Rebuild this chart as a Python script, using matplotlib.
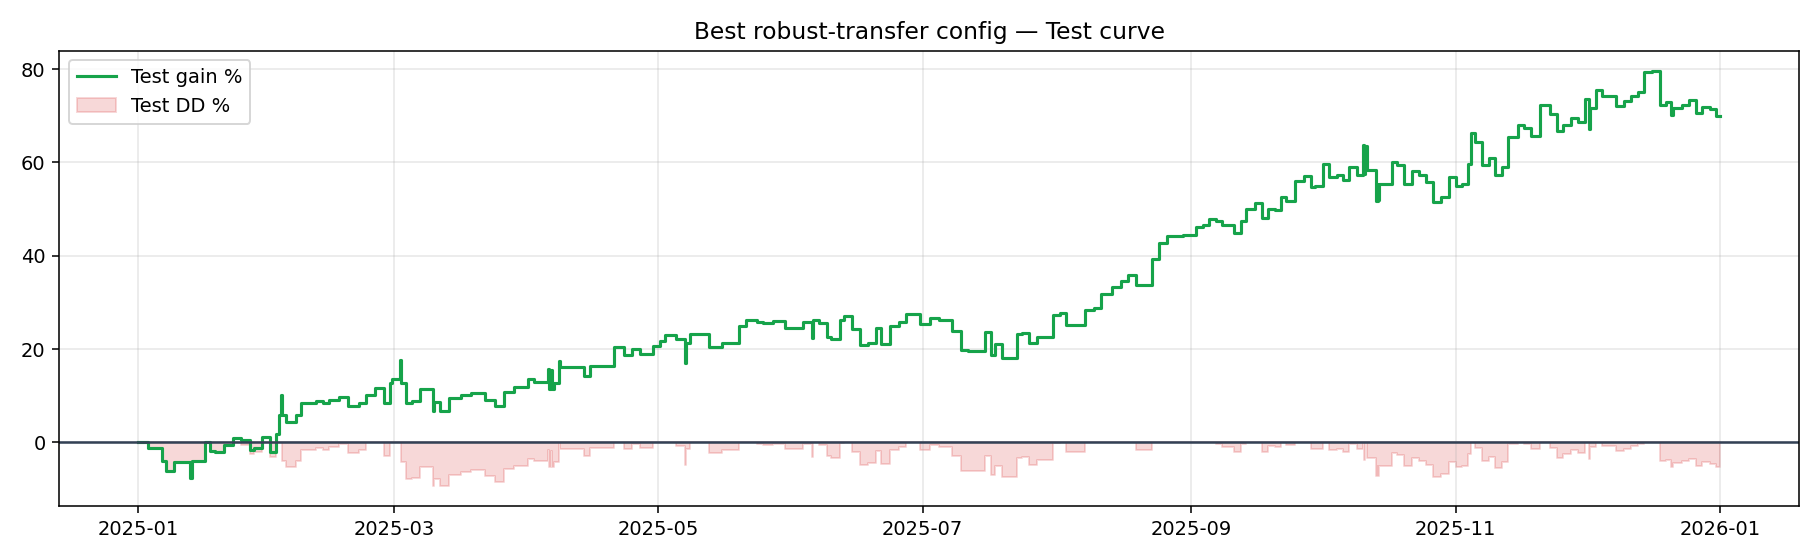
import matplotlib
matplotlib.use("Agg")
import matplotlib.pyplot as plt
import matplotlib.dates as mdates
import numpy as np
import pandas as pd

# days since 2025-01-01 where the test equity changes, and the gain % from that point on
day_offsets = [
    0.0, 2.3, 5.5, 6.4, 8.2, 12.0, 12.3, 15.4, 16.5, 17.7, 19.8, 21.9, 23.7, 25.7, 26.7,
    28.5, 30.3, 31.7, 32.5, 33.0, 33.2, 34.0, 36.4, 37.6, 41.0, 42.6, 44.1, 46.4, 48.5,
    51.0, 52.5, 54.7, 56.6, 58.1, 58.6, 60.5, 60.7, 61.8, 63.1, 65.0, 68.1, 68.3, 69.6,
    71.8, 74.5, 76.8, 79.9, 82.2, 84.5, 86.8, 89.9, 91.4, 94.6, 94.8, 95.2, 95.5, 95.9,
    97.2, 97.4, 102.8, 104.3, 109.7, 112.1, 113.9, 115.8, 118.7, 120.3, 121.6, 124.2,
    126.2, 126.4, 127.3, 131.6, 134.8, 138.6, 140.2, 142.8, 144.2, 146.5, 149.3, 153.3,
    155.4, 155.6, 157.0, 158.9, 159.9, 162.0, 162.9, 164.8, 166.5, 168.5, 170.2, 171.5,
    173.4, 175.5, 177.2, 180.5, 182.6, 184.8, 187.8, 189.8, 191.5, 195.4, 196.7, 197.8,
    199.4, 202.7, 204.0, 205.6, 207.4, 211.0, 212.8, 214.1, 218.4, 220.5, 222.2, 224.8,
    226.7, 228.5, 230.2, 234.0, 235.6, 237.3, 241.0, 244.1, 245.6, 247.2, 248.7, 250.2,
    252.9, 254.4, 255.7, 257.7, 259.3, 260.6, 262.4, 263.7, 264.8, 266.9, 269.0, 270.7,
    271.6, 273.3, 274.8, 276.6, 277.9, 279.5, 281.2, 282.7, 282.9, 283.2, 283.5, 285.7,
    286.0, 286.2, 286.4, 289.4, 290.5, 292.2, 294.0, 295.5, 297.1, 298.8, 300.7, 302.5,
    304.2, 305.5, 306.9, 307.6, 308.5, 310.0, 311.6, 313.0, 314.6, 316.0, 318.4, 319.8,
    321.3, 323.5, 325.7, 327.4, 328.9, 330.7, 332.2, 333.8, 334.9, 335.1, 336.5, 337.9,
    341.1, 342.9, 344.4, 346.0, 347.5, 349.4, 351.1, 352.5, 353.7, 354.1, 356.3, 357.8,
    359.4, 360.9, 362.6, 364.0, 365.0,
]
test_gain = [
    0.0, -1.1, -3.9, -6.1, -4.1, -7.6, -4.0, 0.0, -1.8, -2.1, -0.6, 1.0, 0.5, -1.6, -1.1,
    1.2, -2.0, 1.9, 5.9, 10.2, 5.9, 4.3, 5.9, 8.4, 8.9, 8.4, 9.1, 9.8, 7.8,
    8.4, 10.2, 11.6, 8.4, 12.7, 13.6, 17.7, 12.7, 8.4, 8.8, 11.4, 6.8, 8.6, 6.8,
    9.5, 10.2, 10.7, 9.2, 7.8, 10.9, 11.8, 13.5, 13.0, 15.8, 11.4, 15.6, 11.5, 12.8,
    17.5, 16.1, 14.2, 16.3, 20.5, 18.8, 20.0, 19.0, 20.6, 21.8, 23.0, 22.1,
    17.1, 21.2, 23.2, 20.4, 21.3, 24.9, 26.3, 25.8, 25.6, 26.0, 24.6, 25.8,
    22.4, 26.3, 25.5, 22.6, 22.1, 26.2, 27.0, 24.3, 20.9, 21.3, 24.6, 21.1,
    24.9, 25.8, 27.5, 25.4, 26.7, 26.3, 23.8, 19.8, 19.6, 23.7, 18.7, 21.1,
    18.0, 23.2, 23.5, 21.4, 22.6, 27.3, 27.7, 25.1, 28.3, 28.8, 31.7, 33.2,
    34.6, 35.9, 33.7, 39.4, 42.7, 44.3, 44.5, 46.2, 46.6, 47.9, 47.5, 46.5,
    44.8, 47.5, 50.0, 51.2, 48.0, 50.0, 49.7, 52.6, 51.8, 56.1, 57.1, 54.8,
    55.0, 59.6, 56.9, 57.3, 56.3, 59.0, 57.3, 63.7, 57.5, 63.5, 58.4, 51.8,
    55.3, 52.0, 55.3, 60.1, 59.4, 55.3, 58.1, 57.3, 55.7, 51.6, 52.6, 56.8,
    55.0, 55.3, 59.6, 66.2, 64.4, 59.5, 61.0, 57.2, 59.1, 65.5, 68.1, 67.4,
    65.7, 72.4, 70.3, 66.7, 68.1, 69.6, 68.6, 73.5, 67.2, 71.7, 75.5, 74.3,
    72.1, 73.1, 74.2, 75.1, 79.4, 79.5, 72.2, 72.9, 70.1, 71.7, 72.4, 73.3,
    70.5, 71.9, 71.4, 69.9, 69.9,
]

dates = pd.Timestamp("2025-01-01") + pd.to_timedelta(day_offsets, unit="D")
gain = np.array(test_gain)

# drawdown from the running peak of equity, in %
equity = 1 + gain / 100
peak = np.maximum.accumulate(np.maximum(equity, 1.0))
dd = (equity / peak - 1) * 100

fig, ax = plt.subplots(figsize=(13, 4), dpi=140)

ax.step(dates, gain, where="post", color="#16a34a", lw=1.6, label="Test gain %")
ax.fill_between(dates, dd, 0, step="post", color="#d62728", alpha=0.18, label="Test DD %")
ax.axhline(0, color="#334155", lw=1.3)

ax.set_title("Best robust-transfer config — Test curve")
ax.xaxis.set_major_locator(mdates.MonthLocator(bymonth=[1, 3, 5, 7, 9, 11]))
ax.xaxis.set_major_formatter(mdates.DateFormatter("%Y-%m"))
ax.grid(alpha=0.3)
ax.legend(loc="upper left")

fig.tight_layout()
fig.savefig("out.png")
